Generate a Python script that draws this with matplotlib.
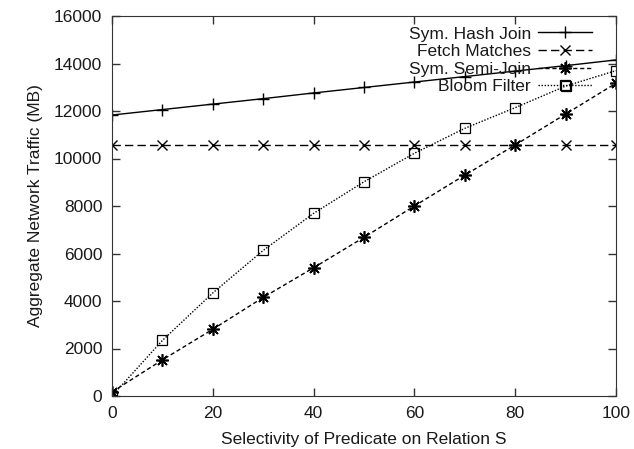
import numpy as np
import matplotlib
matplotlib.use("Agg")
import matplotlib.pyplot as plt

plt.rcParams['font.family'] = ['Liberation Sans', 'DejaVu Sans']

selectivity = [0, 10, 20, 30, 40, 50, 60, 70, 80, 90, 100]
hash_join = [11830, 12060, 12290, 12520, 12760, 12990, 13220, 13450, 13680, 13910, 14150]
fetch_matches = [10570] * 11
semi_join = [170, 1520, 2810, 4150, 5400, 6680, 8000, 9300, 10570, 11870, 13170]
bloom_filter = [0, 2340, 4340, 6130, 7690, 9020, 10220, 11270, 12140, 13050, 13700]

fig = plt.figure(figsize=(6.34, 4.49), dpi=100)
ax = fig.add_axes([112/634, 1-396/449, 504/634, 380/449])

ax.plot(selectivity, hash_join, color='black', lw=1, marker='+', ms=9, mew=1,
        label='Sym. Hash Join')
ax.plot(selectivity, fetch_matches, color='black', lw=1, ls=(0, (6, 3)), marker='x',
        ms=7, mew=1, label='Fetch Matches')
ax.plot(selectivity, semi_join, color='black', lw=1, ls=(0, (3, 2)), marker=(8, 2, 0),
        ms=9, mew=1.2, label='Sym. Semi-Join')
ax.plot(selectivity, bloom_filter, color='black', lw=1, ls=(0, (1, 1.2)), marker='s',
        ms=7, mew=0.9, mfc='none', label='Bloom Filter')

ax.set_xlim(0, 100)
ax.set_ylim(0, 16000)
ax.set_xticks(range(0, 101, 20))
ax.set_yticks(range(0, 16001, 2000))
ax.tick_params(direction='in', length=6, width=1, color='#333333', labelsize=12.5,
               labelcolor='#1a1a1a', top=True, right=True, pad=7)
for s in ax.spines.values():
    s.set_color('#333333')
ax.set_xlabel('Selectivity of Predicate on Relation S', fontsize=12.5, labelpad=8,
              color='#1a1a1a')
ax.set_ylabel('Aggregate Network Traffic (MB)', fontsize=12.5, labelpad=8,
              color='#1a1a1a')

leg = ax.legend(loc='upper right', bbox_to_anchor=(1 - 14/504, 1), frameon=False,
                markerfirst=False, fontsize=12.5, handlelength=3.1, labelspacing=0.14,
                borderaxespad=0.2, handletextpad=0.4)
for t in leg.get_texts():
    t.set_color('#1a1a1a')

fig.savefig('out.png', dpi=100)
